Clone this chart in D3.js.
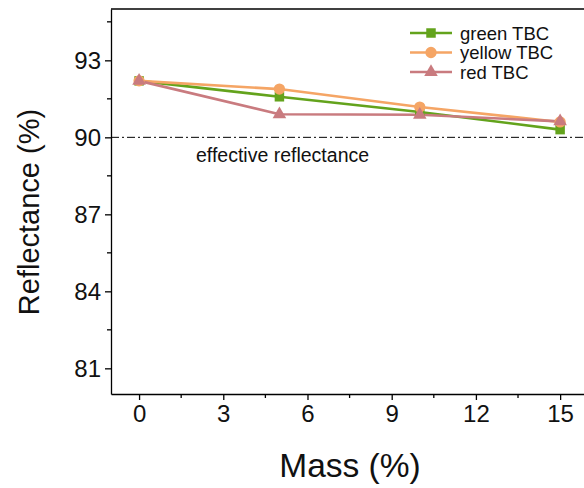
<!DOCTYPE html>
<html>
<head>
<meta charset="utf-8">
<script src="https://cdn.jsdelivr.net/npm/d3@7"></script>
<style>
  body { margin: 0; background: #fff; }
  svg { font-family: Arial, "Liberation Sans", sans-serif; }
  .axis path, .axis line { stroke: #000; stroke-width: 1.3; }
</style>
</head>
<body>
<div id="chart"></div>
<script>
const mass = [0, 5, 10, 15];
const greenTBC = [92.2, 91.58, 90.99, 90.3];
const yellowTBC = [92.2, 91.88, 91.18, 90.6];
const redTBC = [92.2, 90.9, 90.88, 90.62];
const seriesNames = ["green TBC", "yellow TBC", "red TBC"];
const xTicks = [0, 3, 6, 9, 12, 15];
const yTicks = [81, 84, 87, 90, 93];
const effectiveLevel = 90;

const width = 584, height = 488;
const margin = { left: 111, top: 9, bottom: 94 };
const tickFont = 24;

const svg = d3.select("#chart").append("svg").attr("width", width).attr("height", height);

const x = d3.scaleLinear().domain([-1, 16]).range([margin.left, margin.left + 17 * 28.07]);
const y = d3.scaleLinear().domain([80, 95]).range([height - margin.bottom, margin.top]);

const series = [
  { name: seriesNames[0], values: greenTBC, color: "#63a31c", shape: d3.symbolSquare, size: 90 },
  { name: seriesNames[1], values: yellowTBC, color: "#f5a565", shape: d3.symbolCircle, size: 100 },
  { name: seriesNames[2], values: redTBC, color: "#c97b7f", shape: d3.symbolTriangle, size: 80 }
];

// frame top line
svg.append("line").attr("x1", margin.left).attr("x2", width)
  .attr("y1", y(95)).attr("y2", y(95)).attr("stroke", "#000").attr("stroke-width", 1.3);

// axes
const xAxis = svg.append("g").attr("class", "axis")
  .attr("transform", "translate(0," + y(80) + ")")
  .call(d3.axisBottom(x).tickValues(xTicks).tickSize(6).tickPadding(5).tickSizeOuter(0));
xAxis.attr("font-size", tickFont).attr("font-family", "Arial, 'Liberation Sans', sans-serif");
xAxis.append("g").selectAll("line").data(d3.range(1.5, 16, 3)).enter()
  .append("line").attr("x1", d => x(d)).attr("x2", d => x(d)).attr("y1", 0).attr("y2", 4)
  .attr("stroke", "#000").attr("stroke-width", 1.3);

const yAxis = svg.append("g").attr("class", "axis")
  .attr("transform", "translate(" + margin.left + ",0)")
  .call(d3.axisLeft(y).tickValues(yTicks).tickSize(6).tickPadding(4).tickSizeOuter(0));
yAxis.attr("font-size", tickFont).attr("font-family", "Arial, 'Liberation Sans', sans-serif");
yAxis.append("g").selectAll("line").data(d3.range(82.5, 95, 3)).enter()
  .append("line").attr("x1", 0).attr("x2", -4).attr("y1", d => y(d)).attr("y2", d => y(d))
  .attr("stroke", "#000").attr("stroke-width", 1.3);

svg.selectAll(".axis .tick text").attr("font-size", tickFont).attr("fill", "#111");

// effective reflectance line
svg.append("line").attr("x1", margin.left).attr("x2", width)
  .attr("y1", y(effectiveLevel)).attr("y2", y(effectiveLevel))
  .attr("stroke", "#000").attr("stroke-width", 1).attr("stroke-dasharray", "8,3,2,3");
svg.append("text").attr("x", 196).attr("y", y(effectiveLevel) + 25)
  .style("font-size", "19.5px").attr("fill", "#111").text("effective reflectance");

// lines + markers
const line = d3.line().x((d, i) => x(mass[i])).y(d => y(d));
series.forEach(s => {
  svg.append("path").datum(s.values).attr("d", line)
    .attr("fill", "none").attr("stroke", s.color).attr("stroke-width", 2.6);
});
series.forEach(s => {
  svg.selectAll(null).data(s.values).enter().append("path")
    .attr("d", d3.symbol().type(s.shape).size(s.size))
    .attr("transform", (d, i) => "translate(" + x(mass[i]) + "," + y(d) + ")")
    .attr("fill", s.color);
});

// legend
const legend = svg.append("g").attr("transform", "translate(410,33)");
series.forEach((s, i) => {
  const g = legend.append("g").attr("transform", "translate(0," + i * 19.5 + ")");
  g.append("line").attr("x1", 0).attr("x2", 42).attr("stroke", s.color).attr("stroke-width", 2.6);
  g.append("path").attr("d", d3.symbol().type(s.shape).size(s.size)).attr("transform", "translate(21,0)").attr("fill", s.color);
  g.append("text").attr("x", 50).attr("y", 6.5).style("font-size", "18.5px").attr("fill", "#111").text(s.name);
});

// axis titles
svg.append("text").attr("x", 350).attr("y", 477).attr("text-anchor", "middle")
  .style("font-size", "33.5px").attr("fill", "#111").text("Mass (%)");
svg.append("text").attr("transform", "translate(39,212) rotate(-90)")
  .attr("text-anchor", "middle").style("font-size", "29px").attr("fill", "#111").text("Reflectance (%)");
</script>
</body>
</html>
